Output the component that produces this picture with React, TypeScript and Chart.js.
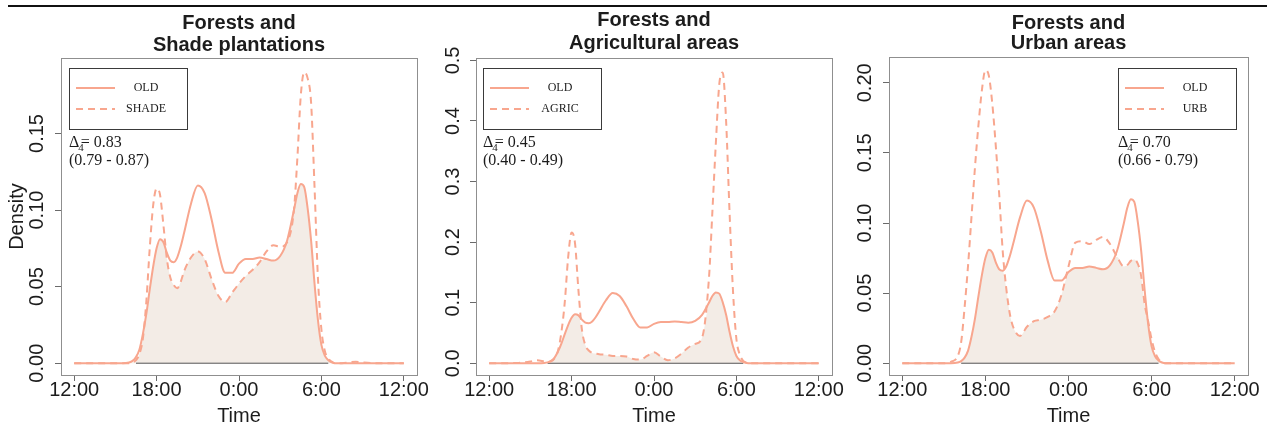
import React, { useEffect, useRef } from "react";
import { Chart, registerables } from "chart.js";

Chart.register(...registerables);

// ---------- data ----------
// hours after 12:00 (0 = 12:00, 6 = 18:00, 12 = 0:00, 18 = 6:00, 24 = 12:00)
const HOURS = [
  0, 1, 2, 3, 3.5, 4, 4.25, 4.5, 4.75, 5, 5.25, 5.5, 5.75, 6, 6.25, 6.5, 6.75,
  7, 7.25, 7.5, 7.75, 8, 8.5, 9, 9.5, 10, 10.5, 11, 11.5, 12, 12.5, 13, 13.5,
  14, 14.5, 15, 15.5, 16, 16.25, 16.5, 16.75, 17, 17.25, 17.5, 17.75, 18,
  18.25, 18.5, 18.75, 19, 19.5, 20, 20.5, 21, 22, 23, 24,
];

const OLD = [
  0, 0, 0, 0, 0, 0.0005, 0.0015, 0.004, 0.009, 0.019, 0.032, 0.048, 0.063,
  0.075, 0.081, 0.079, 0.072, 0.067, 0.066, 0.069, 0.076, 0.085, 0.104, 0.116,
  0.111, 0.094, 0.073, 0.059, 0.059, 0.065, 0.068, 0.068, 0.069, 0.068, 0.067,
  0.07, 0.08, 0.1, 0.111, 0.117, 0.115, 0.101, 0.08, 0.052, 0.028, 0.012,
  0.005, 0.002, 0.0005, 0, 0, 0, 0, 0, 0, 0, 0,
];

const SHADE = [
  0, 0, 0, 0, 0, 0, 0.0005, 0.002, 0.006, 0.016, 0.04, 0.075, 0.103, 0.114,
  0.11, 0.09, 0.068, 0.056, 0.051, 0.049, 0.053, 0.06, 0.069, 0.073, 0.068,
  0.055, 0.044, 0.04, 0.046, 0.052, 0.057, 0.061, 0.066, 0.073, 0.077, 0.076,
  0.079, 0.1, 0.134, 0.175, 0.19, 0.186, 0.17, 0.115, 0.055, 0.022, 0.008,
  0.003, 0.001, 0, 0, 0.0005, 0.001, 0.0005, 0, 0, 0,
];

const AGRIC = [
  0, 0, 0.0005, 0.003, 0.005, 0.003, 0.002, 0.003, 0.008, 0.02, 0.05, 0.1,
  0.175, 0.216, 0.198, 0.12, 0.056, 0.03, 0.021, 0.017, 0.016, 0.015, 0.014,
  0.012, 0.012, 0.011, 0.007, 0.006, 0.012, 0.018, 0.011, 0.005, 0.008, 0.016,
  0.026, 0.032, 0.042, 0.14, 0.25, 0.362, 0.46, 0.48, 0.4, 0.25, 0.12, 0.04,
  0.014, 0.004, 0.001, 0, 0, 0, 0, 0, 0, 0, 0,
];

const URB = [
  0, 0, 0, 0, 0.001, 0.005, 0.015, 0.04, 0.07, 0.105, 0.14, 0.17, 0.195,
  0.209, 0.205, 0.185, 0.155, 0.12, 0.08, 0.054, 0.036, 0.026, 0.0195, 0.026,
  0.03, 0.031, 0.033, 0.037, 0.049, 0.069, 0.086, 0.087, 0.085, 0.088, 0.09,
  0.085, 0.076, 0.069, 0.07, 0.073, 0.074, 0.071, 0.062, 0.042, 0.03, 0.017,
  0.008, 0.003, 0.001, 0, 0, 0, 0, 0, 0, 0, 0,
];

const X_TICKS = [0, 6, 12, 18, 24];
const X_LABELS = ["12:00", "18:00", "0:00", "6:00", "12:00"];

const Y_TICKS_SHADE = [0, 0.05, 0.1, 0.15];
const Y_LABELS_SHADE = ["0.00", "0.05", "0.10", "0.15"];
const Y_TICKS_AGRIC = [0, 0.1, 0.2, 0.3, 0.4, 0.5];
const Y_LABELS_AGRIC = ["0.0", "0.1", "0.2", "0.3", "0.4", "0.5"];
const Y_TICKS_URB = [0, 0.05, 0.1, 0.15, 0.2];
const Y_LABELS_URB = ["0.00", "0.05", "0.10", "0.15", "0.20"];

const TITLES = [
  ["Forests and", "Shade plantations"],
  ["Forests and", "Agricultural areas"],
  ["Forests and", "Urban areas"],
];
const SERIES_NAMES = ["OLD", "SHADE", "AGRIC", "URB"];
const DELTA_VALUES = ["0.83", "0.45", "0.70"];
const DELTA_CI = ["(0.79 - 0.87)", "(0.40 - 0.49)", "(0.66 - 0.79)"];

// ---------- styles ----------
const LINE = "#f8a68e";
const FILL = "#f3ece6";
const BOX = "#8f8f8f";
const TEXT = "#1c1c1c";
const SANS = "'Liberation Sans', Arial, Helvetica, sans-serif";
const SERIF = "'Liberation Serif', 'Times New Roman', serif";

const W = 1272;
const H = 431;

type PanelCfg = {
  other: number[];
  name: string;
  title: string[];
  delta: string;
  ci: string;
  yTicks: number[];
  yLabels: string[];
  yMin: number;
  yMax: number;
  area: { left: number; top: number; right: number; bottom: number };
  legendX: number;
  titleY: number[];
  yPad: number;
  density: boolean;
};

const PANELS: PanelCfg[] = [
  {
    other: SHADE,
    name: SERIES_NAMES[1],
    title: TITLES[0],
    delta: DELTA_VALUES[0],
    ci: DELTA_CI[0],
    yTicks: Y_TICKS_SHADE,
    yLabels: Y_LABELS_SHADE,
    yMin: -0.0077,
    yMax: 0.1993,
    area: { left: 61, top: 58, right: 417, bottom: 375 },
    legendX: 69,
    titleY: [23, 45],
    yPad: -2,
    density: true,
  },
  {
    other: AGRIC,
    name: SERIES_NAMES[2],
    title: TITLES[1],
    delta: DELTA_VALUES[1],
    ci: DELTA_CI[1],
    yTicks: Y_TICKS_AGRIC,
    yLabels: Y_LABELS_AGRIC,
    yMin: -0.0194,
    yMax: 0.504,
    area: { left: 476, top: 58, right: 832, bottom: 375 },
    legendX: 483,
    titleY: [20, 43],
    yPad: 3,
    density: false,
  },
  {
    other: URB,
    name: SERIES_NAMES[3],
    title: TITLES[2],
    delta: DELTA_VALUES[2],
    ci: DELTA_CI[2],
    yTicks: Y_TICKS_URB,
    yLabels: Y_LABELS_URB,
    yMin: -0.0084,
    yMax: 0.2184,
    area: { left: 889, top: 57, right: 1248, bottom: 375 },
    legendX: 1118,
    titleY: [23, 43],
    yPad: -2,
    density: false,
  },
];

const Y_AXIS_W = 52;
const X_AXIS_H = 50;

function pts(vals: number[]) {
  return HOURS.map((h, i) => ({ x: h, y: vals[i] }));
}

function decorPlugin(p: PanelCfg) {
  return {
    id: "decor",
    afterDraw(chart: any) {
      const ctx = chart.ctx as CanvasRenderingContext2D;
      const a = chart.chartArea;
      ctx.save();
      // plot box
      ctx.strokeStyle = BOX;
      ctx.lineWidth = 1;
      ctx.strokeRect(
        Math.round(a.left) + 0.5,
        Math.round(a.top) + 0.5,
        Math.round(a.right - a.left),
        Math.round(a.bottom - a.top)
      );
      const cx = (a.left + a.right) / 2;
      // titles
      ctx.fillStyle = TEXT;
      ctx.textAlign = "center";
      ctx.textBaseline = "middle";
      ctx.font = `bold 20px ${SANS}`;
      p.title.forEach((t, i) => ctx.fillText(t, cx, p.titleY[i]));
      // axis titles
      ctx.font = `20px ${SANS}`;
      ctx.fillText("Time", cx, 416);
      if (p.density) {
        ctx.save();
        ctx.translate(17, (a.top + a.bottom) / 2);
        ctx.rotate(-Math.PI / 2);
        ctx.fillText("Density", 0, 0);
        ctx.restore();
      }
      // legend
      const lx = p.legendX;
      ctx.strokeStyle = "#3a3a3a";
      ctx.lineWidth = 1;
      ctx.strokeRect(lx + 0.5, 68.5, 118, 61);
      const rows = [
        { y: 88, label: SERIES_NAMES[0], dash: [] as number[] },
        { y: 109, label: p.name, dash: [7, 5] },
      ];
      ctx.font = `12px ${SERIF}`;
      rows.forEach((r) => {
        ctx.strokeStyle = LINE;
        ctx.lineWidth = 2;
        ctx.setLineDash(r.dash);
        ctx.beginPath();
        ctx.moveTo(lx + 7, r.y);
        ctx.lineTo(lx + 46, r.y);
        ctx.stroke();
        ctx.setLineDash([]);
        ctx.fillStyle = TEXT;
        ctx.textAlign = "center";
        ctx.textBaseline = "middle";
        ctx.fillText(r.label, lx + 77, r.y);
      });
      // overlap annotation
      ctx.textAlign = "left";
      ctx.textBaseline = "alphabetic";
      ctx.fillStyle = TEXT;
      ctx.font = `16px ${SERIF}`;
      const y1 = 147;
      ctx.fillText("\u0394", lx, y1);
      const dw = ctx.measureText("\u0394").width;
      ctx.fillText("= " + p.delta, lx + dw + 1.5, y1);
      ctx.font = `11px ${SERIF}`;
      ctx.fillText("4", lx + dw - 1, y1 + 4);
      ctx.font = `16px ${SERIF}`;
      ctx.fillText(p.ci, lx, 165);
      ctx.restore();
    },
  };
}

function makeConfig(p: PanelCfg): any {
  const overlap = OLD.map((v, i) => Math.min(v, p.other[i]));
  const pos = overlap.map((v, i) => (v > 0.001 ? i : -1)).filter((i) => i >= 0);
  const base = pos.length
    ? [
        { x: HOURS[pos[0]], y: 0 },
        { x: HOURS[pos[pos.length - 1]], y: 0 },
      ]
    : [];
  return {
    type: "line",
    data: {
      datasets: [
        {
          label: SERIES_NAMES[0],
          data: pts(OLD),
          borderColor: LINE,
          borderWidth: 2,
          pointRadius: 0,
          cubicInterpolationMode: "monotone",
          fill: false,
          order: 0,
        },
        {
          label: p.name,
          data: pts(p.other),
          borderColor: LINE,
          borderWidth: 2,
          borderDash: [7, 5],
          pointRadius: 0,
          cubicInterpolationMode: "monotone",
          fill: false,
          order: 1,
        },
        {
          label: "baseline",
          data: base,
          borderColor: "#555555",
          borderWidth: 1,
          pointRadius: 0,
          fill: false,
          order: 2,
        },
        {
          label: "overlap",
          data: pts(overlap),
          borderColor: "rgba(0,0,0,0)",
          borderWidth: 0,
          backgroundColor: FILL,
          pointRadius: 0,
          cubicInterpolationMode: "monotone",
          fill: "origin",
          order: 3,
        },
      ],
    },
    options: {
      animation: false,
      responsive: false,
      devicePixelRatio: 1,
      events: [],
      layout: {
        padding: {
          left: p.area.left - Y_AXIS_W,
          top: p.area.top,
          right: W - p.area.right,
          bottom: H - X_AXIS_H - p.area.bottom,
        },
      },
      plugins: {
        legend: { display: false },
        tooltip: { enabled: false },
        title: { display: false },
      },
      scales: {
        x: {
          type: "linear",
          min: -0.96,
          max: 24.96,
          afterBuildTicks: (s: any) => {
            s.ticks = X_TICKS.map((v) => ({ value: v }));
          },
          afterFit: (s: any) => {
            s.height = X_AXIS_H;
          },
          ticks: {
            autoSkip: false,
            maxRotation: 0,
            minRotation: 0,
            padding: -3,
            color: TEXT,
            font: { family: SANS, size: 20 },
            callback: (_v: any, i: number) => X_LABELS[i],
          },
          grid: {
            display: true,
            drawOnChartArea: false,
            drawTicks: true,
            tickLength: 6,
            color: "#6a6a6a",
          },
          border: { display: false },
        },
        y: {
          type: "linear",
          min: p.yMin,
          max: p.yMax,
          afterBuildTicks: (s: any) => {
            s.ticks = p.yTicks.map((v) => ({ value: v }));
          },
          afterFit: (s: any) => {
            s.width = Y_AXIS_W;
          },
          ticks: {
            autoSkip: false,
            minRotation: 90,
            maxRotation: 90,
            crossAlign: "center",
            padding: p.yPad,
            color: TEXT,
            font: { family: SANS, size: 20 },
            callback: (_v: any, i: number) => p.yLabels[i],
          },
          grid: {
            display: true,
            drawOnChartArea: false,
            drawTicks: true,
            tickLength: 6,
            color: "#6a6a6a",
          },
          border: { display: false },
        },
      },
    },
    plugins: [decorPlugin(p)],
  };
}

function Panel({ p }: { p: PanelCfg }) {
  const ref = useRef<HTMLCanvasElement | null>(null);
  useEffect(() => {
    if (!ref.current) return;
    const chart = new Chart(ref.current, makeConfig(p));
    return () => chart.destroy();
  }, [p]);
  return (
    <canvas
      ref={ref}
      width={W}
      height={H}
      style={{ position: "absolute", left: 0, top: 0, width: W, height: H }}
    />
  );
}

export default function App() {
  return (
    <div
      style={{
        position: "fixed",
        left: 0,
        top: 0,
        width: W,
        height: H,
        background: "#ffffff",
        overflow: "hidden",
      }}
    >
      <div
        style={{
          position: "absolute",
          left: 8,
          top: 5,
          width: 1259,
          height: 2,
          background: "#111111",
        }}
      />
      {PANELS.map((p, i) => (
        <Panel key={i} p={p} />
      ))}
    </div>
  );
}
